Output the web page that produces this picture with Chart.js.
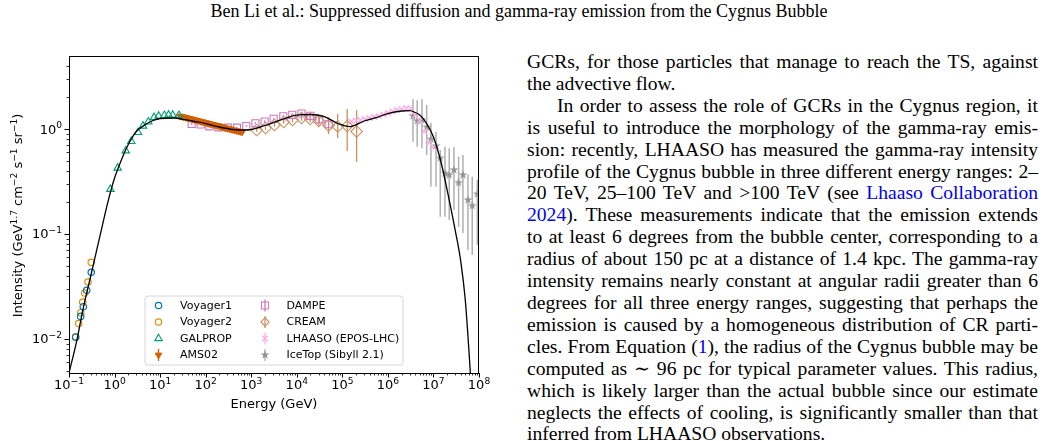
<!DOCTYPE html>
<html>
<head>
<meta charset="utf-8">
<script src="https://cdn.jsdelivr.net/npm/chart.js@4.4.1/dist/chart.umd.min.js"></script>
<style>
  html, body { margin: 0; padding: 0; background: #fff; }
  body { width: 1044px; height: 441px; position: relative; overflow: hidden; }
  #header { position: absolute; left: 0; top: 1px; width: 1038px; text-align: center;
            font: 18px 'Liberation Serif', 'DejaVu Serif', serif; color: #000; }
  #chartBox { position: absolute; left: 0; top: 0; width: 500px; height: 441px; }
  #body { position: absolute; left: 527px; top: 51px; width: 511px; color: #000;
          font: 19.6px 'Liberation Serif', 'DejaVu Serif', serif; line-height: 21.9px; }
  #body div { white-space: nowrap; }
  .j { text-align: justify; text-align-last: justify; }
  .ind { text-indent: 30px; }
  .ref { color: #0000ee; }
</style>
</head>
<body>
<div id="header">Ben Li et al.: Suppressed diffusion and gamma-ray emission from the Cygnus Bubble</div>
<div id="chartBox"><canvas id="cygChart"></canvas></div>
<div id="body">
  <div class="j">GCRs, for those particles that manage to reach the TS, against</div>
  <div>the advective flow.</div>
  <div class="j ind">In order to assess the role of GCRs in the Cygnus region, it</div>
  <div class="j">is useful to introduce the morphology of the gamma-ray emis-</div>
  <div class="j">sion: recently, LHAASO has measured the gamma-ray intensity</div>
  <div class="j">profile of the Cygnus bubble in three different energy ranges: 2–</div>
  <div class="j">20 TeV, 25–100 TeV and &gt;100 TeV (see <span class="ref">Lhaaso Collaboration</span></div>
  <div class="j"><span class="ref">2024</span>). These measurements indicate that the emission extends</div>
  <div class="j">to at least 6 degrees from the bubble center, corresponding to a</div>
  <div class="j">radius of about 150 pc at a distance of 1.4 kpc. The gamma-ray</div>
  <div class="j">intensity remains nearly constant at angular radii greater than 6</div>
  <div class="j">degrees for all three energy ranges, suggesting that perhaps the</div>
  <div class="j">emission is caused by a homogeneous distribution of CR parti-</div>
  <div class="j">cles. From Equation (<span class="ref">1</span>), the radius of the Cygnus bubble may be</div>
  <div class="j">computed as ∼ 96 pc for typical parameter values. This radius,</div>
  <div class="j">which is likely larger than the actual bubble since our estimate</div>
  <div class="j">neglects the effects of cooling, is significantly smaller than that</div>
  <div>inferred from LHAASO observations.</div>
</div>

<script>
// ---- values (energy in GeV, intensity in GeV^1.7 cm^-2 s^-1 sr^-1) ----
const voyager1Energy = [0.140, 0.181, 0.206, 0.245, 0.308];
const voyager1Flux   = [0.0104, 0.0164, 0.0203, 0.0291, 0.0432];

const voyager2Energy = [0.140, 0.163, 0.181, 0.200, 0.221, 0.261, 0.308];
const voyager2Flux   = [0.0105, 0.0140, 0.0178, 0.0225, 0.0274, 0.0349, 0.0537];

const galpropEnergy = [0.81, 1.17, 1.76, 2.33, 3.27, 4.21, 5.5, 7.35, 9.3, 12.4, 15.4, 18.9, 25.9];
const galpropFlux   = [0.267, 0.425, 0.621, 0.764, 0.93, 1.07, 1.17, 1.29, 1.33, 1.35, 1.36, 1.36, 1.35];

const ams02Energy = [27.5, 30.2, 33.1, 36.3, 39.8, 43.7, 47.9, 52.5, 57.5, 63.1, 69.2, 75.9,
                     83.2, 91.2, 100, 110, 120, 132, 145, 158, 174, 191, 209, 229, 251, 275,
                     302, 331, 363, 398, 437, 479, 525, 575, 631];
const ams02Flux   = [1.328, 1.315, 1.301, 1.289, 1.275, 1.262, 1.251, 1.237, 1.224, 1.210, 1.200, 1.186,
                     1.174, 1.161, 1.150, 1.138, 1.125, 1.114, 1.104, 1.092, 1.080, 1.068, 1.059, 1.047,
                     1.036, 1.024, 1.013, 1.004, 0.993, 0.983, 0.972, 0.963, 0.953, 0.945, 0.936];

const dampeEnergy = [49.3, 77.8, 121, 191, 309, 487, 779, 1240, 1970, 3110, 5060, 7970, 12700, 19800, 31200, 50100];
const dampeFlux   = [1.116, 1.104, 1.061, 1.038, 1.029, 1.029, 1.068, 1.133, 1.179, 1.25, 1.324, 1.365, 1.405, 1.336, 1.237, 1.11];
const dampeLow    = [1.09, 1.08, 1.04, 1.02, 1.01, 1.01, 1.05, 1.11, 1.15, 1.22, 1.29, 1.32, 1.35, 1.27, 1.16, 1.01];
const dampeHigh   = [1.14, 1.13, 1.08, 1.06, 1.05, 1.05, 1.09, 1.16, 1.21, 1.28, 1.36, 1.41, 1.46, 1.40, 1.31, 1.21];

const creamEnergy = [1318, 2056, 3240, 5160, 8050, 12700, 19700, 30400, 49700, 79000, 128000, 206000];
const creamFlux   = [0.978, 1.022, 1.092, 1.166, 1.218, 1.273, 1.245, 1.192, 1.080, 1.056, 1.068, 0.947];
const creamLow    = [0.94, 0.98, 1.05, 1.12, 1.16, 1.20, 1.16, 1.07, 0.896, 0.821, 0.617, 0.485];
const creamHigh   = [1.02, 1.07, 1.14, 1.22, 1.28, 1.35, 1.34, 1.33, 1.30, 1.39, 1.55, 1.52];

const lhaasoEnergy = [1.58e5, 2.0e5, 2.51e5, 3.16e5, 3.98e5, 5.01e5, 6.31e5, 7.94e5, 1.0e6, 1.26e6,
                      1.58e6, 2.0e6, 2.51e6, 3.16e6, 3.98e6, 5.01e6, 6.31e6, 7.94e6, 1.0e7];
const lhaasoFlux   = [1.179, 1.205, 1.218, 1.245, 1.273, 1.301, 1.33, 1.374, 1.42, 1.467,
                      1.517, 1.55, 1.585, 1.568, 1.36, 1.2, 0.95, 0.74, 0.67];

const icetopEnergy = [3.55e6, 4.4e6, 5.6e6, 7.1e6, 8.8e6, 1.14e7, 1.41e7, 1.79e7, 2.22e7, 2.82e7, 3.57e7, 4.44e7, 5.72e7, 7.11e7, 9.16e7];
const icetopFlux   = [1.33, 1.19, 1.22, 1.04, 0.798, 0.689, 0.526, 0.378, 0.365, 0.407, 0.308, 0.365, 0.211, 0.186, 0.240];
const icetopLow    = [0.757, 0.678, 0.655, 0.565, 0.282, 0.282, 0.146, 0.146, 0.136, 0.169, 0.117, 0.102, 0.0704, 0.0632, 0.079];
const icetopHigh   = [1.918, 1.88, 1.918, 1.693, 1.148, 0.943, 0.631, 0.678, 0.655, 0.671, 0.545, 0.565, 0.369, 0.351, 0.327];

const modelEnergy = [0.1, 0.15, 0.2, 0.3, 0.5, 0.7, 1, 1.5, 2, 3, 5, 7, 10, 20, 30, 50, 100, 200, 400, 700,
                     1000, 2000, 5000, 1e4, 2e4, 4e4, 8e4, 1.5e5, 3e5, 6e5, 1e6, 2e6, 3e6, 4e6, 5e6, 7e6,
                     1e7, 1.5e7, 2e7, 3e7, 4e7, 5e7, 6e7, 6.5e7];
const modelFlux   = [0.00474, 0.00985, 0.0186, 0.0398, 0.104, 0.195, 0.341, 0.541, 0.712, 0.947, 1.116, 1.205,
                     1.259, 1.273, 1.245, 1.192, 1.128, 1.045, 0.989, 0.978, 0.989, 1.08, 1.245, 1.359, 1.374,
                     1.315, 1.128, 1.056, 1.192, 1.301, 1.405, 1.484, 1.494, 1.436, 1.359, 1.14, 0.839, 0.464,
                     0.262, 0.109, 0.054, 0.0235, 0.00785, 0.0045];

// tick labels: decade value and its exponent text
const xDecades = [1e-1, 1, 1e1, 1e2, 1e3, 1e4, 1e5, 1e6, 1e7, 1e8];
const xDecadeExponents = ['−1', '0', '1', '2', '3', '4', '5', '6', '7', '8'];
const yDecades = [1e-2, 1e-1, 1];
const yDecadeExponents = ['−2', '−1', '0'];

const X_MIN = 0.1, X_MAX = 1e8, Y_MIN = 0.00474, Y_MAX = 4.96;

const COLORS = {
    voyager1: '#0173B2', voyager2: '#DE8F05', galprop: '#029E73', ams02: '#D55E00',
    dampe: '#CC78BC', cream: '#CA9161', lhaaso: '#FBAFE4', icetop: '#949494'
};

const pts = (xs, ys) => xs.map((x, i) => ({ x, y: ys[i] }));
const isDecade = v => Math.abs(Math.log10(v) - Math.round(Math.log10(v))) < 1e-6;

function logTicks(min, max) {
    const out = [];
    for (let e = Math.floor(Math.log10(min)); e <= Math.ceil(Math.log10(max)); e++) {
        for (let k = 1; k <= 9; k++) {
            const v = k * Math.pow(10, e);
            if (v >= min * 0.999 && v <= max * 1.001) out.push(v);
        }
    }
    return out;
}
const xTicks = logTicks(X_MIN, X_MAX);
const yTicks = logTicks(Y_MIN, Y_MAX);

// five point star marker for IceTop
function makeStar(color, r) {
    const c = document.createElement('canvas');
    const s = Math.ceil(2 * r + 2);
    c.width = s; c.height = s;
    const g = c.getContext('2d');
    g.beginPath();
    for (let i = 0; i < 10; i++) {
        const rr = i % 2 === 0 ? r : r * 0.4;
        const a = -Math.PI / 2 + i * Math.PI / 5;
        g.lineTo(s / 2 + rr * Math.cos(a), s / 2 + rr * Math.sin(a));
    }
    g.closePath();
    g.fillStyle = color;
    g.fill();
    return c;
}
const starMarker = makeStar(COLORS.icetop, 4.6);

function drawMarker(ctx, ds, x, y) {
    const style = ds.pointStyle, r = ds.pointRadius;
    if (style instanceof HTMLCanvasElement) {
        ctx.drawImage(style, x - style.width / 2, y - style.height / 2);
        return;
    }
    ctx.save();
    ctx.strokeStyle = ds.pointBorderColor;
    ctx.fillStyle = ds.pointBackgroundColor;
    ctx.lineWidth = ds.pointBorderWidth;
    ctx.beginPath();
    const rot = (ds.pointRotation || 0) * Math.PI / 180;
    if (style === 'circle') {
        ctx.arc(x, y, r, 0, Math.PI * 2);
    } else if (style === 'triangle') {
        for (let i = 0; i < 3; i++) {
            const a = rot + i * 2 * Math.PI / 3;
            ctx.lineTo(x + Math.sin(a) * r, y - Math.cos(a) * r);
        }
        ctx.closePath();
    } else if (style === 'rect') {
        const s = Math.SQRT1_2 * r;
        ctx.rect(x - s, y - s, 2 * s, 2 * s);
    } else if (style === 'rectRot') {
        const s = Math.SQRT1_2 * r;
        ctx.moveTo(x - s, y); ctx.lineTo(x, y + s); ctx.lineTo(x + s, y); ctx.lineTo(x, y - s);
        ctx.closePath();
    } else if (style === 'crossRot') {
        const s = Math.SQRT1_2 * r;
        ctx.moveTo(x - s, y - s); ctx.lineTo(x + s, y + s);
        ctx.moveTo(x + s, y - s); ctx.lineTo(x - s, y + s);
    }
    if (style !== 'crossRot') ctx.fill();
    ctx.stroke();
    ctx.restore();
}

// rich text with superscripts: parts = [[text, isSup], ...]
function richWidth(ctx, parts, size) {
    let w = 0;
    parts.forEach(([t, sup]) => {
        ctx.font = (sup ? size * 0.7 : size) + "px 'DejaVu Sans'";
        w += ctx.measureText(t).width;
    });
    return w;
}
function drawRich(ctx, parts, x, y, size) {
    parts.forEach(([t, sup]) => {
        ctx.font = (sup ? size * 0.7 : size) + "px 'DejaVu Sans'";
        ctx.fillText(t, x, sup ? y - size * 0.4 : y);
        x += ctx.measureText(t).width;
    });
}
const yTitleParts = [['Intensity (GeV', 0], ['1.7', 1], [' cm', 0], ['−2', 1], [' s', 0], ['−1', 1], [' sr', 0], ['−1', 1], [')', 0]];

const errorBars = {
    id: 'errorBars',
    beforeDatasetsDraw(chart) {
        const { ctx, chartArea: a, scales: { x, y } } = chart;
        ctx.save();
        ctx.beginPath();
        ctx.rect(a.left, a.top, a.right - a.left, a.bottom - a.top);
        ctx.clip();
        chart.data.datasets.forEach(ds => {
            if (!ds.errLow) return;
            ctx.strokeStyle = ds.errColor;
            ctx.lineWidth = ds.errWidth;
            ds.data.forEach((p, i) => {
                const px = x.getPixelForValue(p.x);
                ctx.beginPath();
                ctx.moveTo(px, y.getPixelForValue(ds.errHigh[i]));
                ctx.lineTo(px, y.getPixelForValue(ds.errLow[i]));
                ctx.stroke();
            });
        });
        ctx.restore();
    }
};

const frameAndTicks = {
    id: 'frameAndTicks',
    afterDraw(chart) {
        const { ctx, chartArea: a, scales: { x, y } } = chart;
        ctx.save();
        ctx.strokeStyle = '#000';
        ctx.lineWidth = 1;
        ctx.strokeRect(a.left + 0.5, a.top + 0.5, a.right - a.left - 1, a.bottom - a.top);
        xTicks.forEach(v => {
            const px = Math.round(x.getPixelForValue(v)) + 0.5;
            const len = isDecade(v) ? 4.5 : 2.5;
            ctx.lineWidth = isDecade(v) ? 1 : 0.8;
            ctx.beginPath(); ctx.moveTo(px, a.bottom); ctx.lineTo(px, a.bottom + len); ctx.stroke();
        });
        yTicks.forEach(v => {
            const py = Math.round(y.getPixelForValue(v)) + 0.5;
            const len = isDecade(v) ? 4.5 : 2.5;
            ctx.lineWidth = isDecade(v) ? 1 : 0.8;
            ctx.beginPath(); ctx.moveTo(a.left, py); ctx.lineTo(a.left - len, py); ctx.stroke();
        });

        // decade tick labels with superscript exponents
        ctx.fillStyle = '#000';
        ctx.textAlign = 'left';
        ctx.textBaseline = 'alphabetic';
        xDecades.forEach((v, i) => {
            const parts = [['10', 0], [xDecadeExponents[i], 1]];
            const w = richWidth(ctx, parts, 13);
            drawRich(ctx, parts, x.getPixelForValue(v) - w / 2, a.bottom + 16, 13);
        });
        yDecades.forEach((v, i) => {
            const parts = [['10', 0], [yDecadeExponents[i], 1]];
            const w = richWidth(ctx, parts, 13);
            drawRich(ctx, parts, a.left - 7 - w, y.getPixelForValue(v) + 4.5, 13);
        });

        // axis titles
        ctx.font = "13px 'DejaVu Sans'";
        ctx.textAlign = 'center';
        ctx.textBaseline = 'middle';
        ctx.fillText('Energy (GeV)', (a.left + a.right) / 2, 405);

        ctx.translate(17, (a.top + a.bottom) / 2 + 1);
        ctx.rotate(-Math.PI / 2);
        ctx.textAlign = 'left';
        ctx.textBaseline = 'alphabetic';
        const w = richWidth(ctx, yTitleParts, 13);
        drawRich(ctx, yTitleParts, -w / 2, 5, 13);
        ctx.restore();
    }
};

const legendBox = {
    id: 'legendBox',
    afterDraw(chart) {
        const ctx = chart.ctx;
        const left = 145, top = 296, w = 258, h = 69, rad = 3;
        ctx.save();
        ctx.beginPath();
        ctx.moveTo(left + rad, top);
        ctx.arcTo(left + w, top, left + w, top + h, rad);
        ctx.arcTo(left + w, top + h, left, top + h, rad);
        ctx.arcTo(left, top + h, left, top, rad);
        ctx.arcTo(left, top, left + w, top, rad);
        ctx.closePath();
        ctx.fillStyle = 'rgba(255,255,255,0.8)';
        ctx.fill();
        ctx.strokeStyle = '#d6d6d6';
        ctx.lineWidth = 1;
        ctx.stroke();

        chart.data.datasets.slice(1).forEach((ds, i) => {
            const col = Math.floor(i / 4), row = i % 4;
            const mx = left + 13.5 + col * 106.5;
            const my = top + 9.5 + row * 16.5;
            if (ds.legendBar) {
                ctx.strokeStyle = ds.errColor || ds.pointBorderColor;
                ctx.lineWidth = 1.3;
                ctx.beginPath(); ctx.moveTo(mx, my - 6); ctx.lineTo(mx, my + 6); ctx.stroke();
            }
            drawMarker(ctx, ds, mx, my);
            ctx.fillStyle = '#000';
            ctx.font = "11px 'DejaVu Sans'";
            ctx.textAlign = 'left';
            ctx.textBaseline = 'middle';
            ctx.fillText(ds.label, mx + 21.5, my + 0.5);
        });
        ctx.restore();
    }
};

const hollow = 'rgba(0,0,0,0)';
const ctx = document.getElementById('cygChart').getContext('2d');

new Chart(ctx, {
    type: 'scatter',
    data: {
        datasets: [
            {
                label: 'model', data: pts(modelEnergy, modelFlux), showLine: true,
                borderColor: '#000', borderWidth: 1.3, pointRadius: 0,
                cubicInterpolationMode: 'monotone', fill: false
            },
            {
                label: 'Voyager1', data: pts(voyager1Energy, voyager1Flux),
                pointStyle: 'circle', pointRadius: 3.2, pointBorderWidth: 1.2,
                pointBorderColor: COLORS.voyager1, pointBackgroundColor: hollow
            },
            {
                label: 'Voyager2', data: pts(voyager2Energy, voyager2Flux),
                pointStyle: 'circle', pointRadius: 3.2, pointBorderWidth: 1.2,
                pointBorderColor: COLORS.voyager2, pointBackgroundColor: hollow
            },
            {
                label: 'GALPROP', data: pts(galpropEnergy, galpropFlux),
                pointStyle: 'triangle', pointRadius: 4.3, pointBorderWidth: 1.1,
                pointBorderColor: COLORS.galprop, pointBackgroundColor: hollow
            },
            {
                label: 'AMS02', data: pts(ams02Energy, ams02Flux),
                pointStyle: 'triangle', pointRotation: 180, pointRadius: 3.8, pointBorderWidth: 1,
                pointBorderColor: COLORS.ams02, pointBackgroundColor: COLORS.ams02, legendBar: true
            },
            {
                label: 'DAMPE', data: pts(dampeEnergy, dampeFlux),
                pointStyle: 'rect', pointRadius: 5, pointBorderWidth: 1.1,
                pointBorderColor: COLORS.dampe, pointBackgroundColor: hollow,
                errLow: dampeLow, errHigh: dampeHigh, errColor: COLORS.dampe, errWidth: 1.2, legendBar: true
            },
            {
                label: 'CREAM', data: pts(creamEnergy, creamFlux),
                pointStyle: 'rectRot', pointRadius: 5.8, pointBorderWidth: 1.1,
                pointBorderColor: COLORS.cream, pointBackgroundColor: hollow,
                errLow: creamLow, errHigh: creamHigh, errColor: COLORS.cream, errWidth: 1.3, legendBar: true
            },
            {
                label: 'LHAASO (EPOS-LHC)', data: pts(lhaasoEnergy, lhaasoFlux),
                pointStyle: 'crossRot', pointRadius: 4, pointBorderWidth: 1.3,
                pointBorderColor: COLORS.lhaaso, pointBackgroundColor: COLORS.lhaaso, legendBar: true
            },
            {
                label: 'IceTop (Sibyll 2.1)', data: pts(icetopEnergy, icetopFlux),
                pointStyle: starMarker, pointRadius: 4.6,
                pointBorderColor: COLORS.icetop, pointBackgroundColor: COLORS.icetop,
                errLow: icetopLow, errHigh: icetopHigh, errColor: 'rgba(148,148,148,0.75)', errWidth: 1.5, legendBar: true
            }
        ]
    },
    options: {
        responsive: true,
        maintainAspectRatio: false,
        animation: false,
        events: [],
        layout: { padding: { left: 0, top: 56, right: 21, bottom: 0 } },
        scales: {
            x: {
                type: 'logarithmic', min: X_MIN, max: X_MAX,
                grid: { display: false, drawTicks: false },
                border: { display: false },
                afterFit: s => { s.height = 68; },
                afterBuildTicks: s => { s.ticks = xTicks.map(v => ({ value: v })); },
                ticks: { display: false, autoSkip: false, maxRotation: 0, minRotation: 0 }
            },
            y: {
                type: 'logarithmic', min: Y_MIN, max: Y_MAX,
                grid: { display: false, drawTicks: false },
                border: { display: false },
                afterFit: s => { s.width = 69; },
                afterBuildTicks: s => { s.ticks = yTicks.map(v => ({ value: v })); },
                ticks: { display: false, autoSkip: false }
            }
        },
        plugins: {
            legend: { display: false },
            tooltip: { enabled: false }
        }
    },
    plugins: [errorBars, frameAndTicks, legendBox]
});
</script>
</body>
</html>
